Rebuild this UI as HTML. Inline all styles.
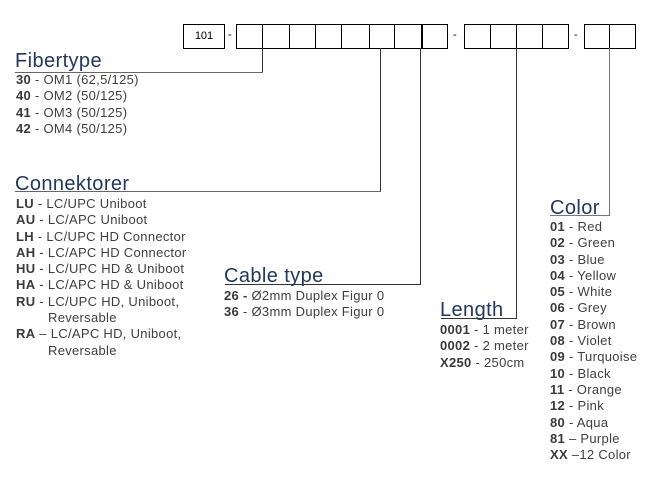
<!DOCTYPE html>
<html><head><meta charset="utf-8"><style>
body{margin:0;width:666px;height:496px;background:#fff;position:relative;overflow:hidden;font-family:"Liberation Sans",sans-serif}
.b{position:absolute;border:1px solid #000;box-sizing:border-box;height:25px;top:24px}
.h{position:absolute;font-size:20px;letter-spacing:0.4px;line-height:22px;color:#1f3864;white-space:nowrap}
.t{position:absolute;font-size:13px;letter-spacing:0.3px;line-height:16.3px;color:#404040;white-space:nowrap}
.t b{color:#3a3a3a}
.l{position:absolute;background:#333}
.d{position:absolute;font-size:11px;top:29px;color:#000}
</style></head><body>
<div class="b" style="left:183px;width:42px;font-size:11px;text-align:center;line-height:23px">101</div>
<div class="d" style="left:228px">-</div>
<div class="d" style="left:453px">-</div>
<div class="d" style="left:574px">-</div>
<div class="b" style="left:236px;width:27px"></div>
<div class="b" style="left:262px;width:28px"></div>
<div class="b" style="left:289px;width:27px"></div>
<div class="b" style="left:315px;width:27px"></div>
<div class="b" style="left:341px;width:29px"></div>
<div class="b" style="left:369px;width:26px"></div>
<div class="b" style="left:394px;width:28px"></div>
<div class="b" style="left:421px;width:27px;border-left-width:2px"></div>
<div class="b" style="left:464px;width:27px"></div>
<div class="b" style="left:490px;width:27px"></div>
<div class="b" style="left:516px;width:27px"></div>
<div class="b" style="left:542px;width:27px"></div>
<div class="b" style="left:584px;width:26px"></div>
<div class="b" style="left:609px;width:27px"></div>

<div class="l" style="left:262px;top:48px;width:1px;height:25px"></div>
<div class="l" style="left:15px;top:72px;width:248px;height:1px;background:#666"></div>
<div class="l" style="left:380px;top:48px;width:1px;height:144px"></div>
<div class="l" style="left:15px;top:191px;width:366px;height:1px;background:#666"></div>
<div class="l" style="left:420px;top:48px;width:1px;height:237px"></div>
<div class="l" style="left:225px;top:284px;width:196px;height:1px"></div>
<div class="l" style="left:516px;top:48px;width:1px;height:271px"></div>
<div class="l" style="left:441px;top:318px;width:76px;height:1px"></div>
<div class="l" style="left:609px;top:48px;width:1px;height:168px;background:#777"></div>
<div class="l" style="left:550px;top:215px;width:60px;height:1px;background:#777"></div>

<div class="h" style="left:15px;top:50px">Fibertype</div>
<div class="t" style="left:16px;top:72px"><b>30</b> - OM1 (62,5/125)<br><b>40</b> - OM2 (50/125)<br><b>41</b> - OM3 (50/125)<br><b>42</b> - OM4 (50/125)</div>

<div class="h" style="left:15px;top:173px">Connektorer</div>
<div class="t" style="left:16px;top:196px"><b>LU</b> - LC/UPC Uniboot<br><b>AU</b> - LC/APC Uniboot<br><b>LH</b> - LC/UPC HD Connector<br><b>AH</b> - LC/APC HD Connector<br><b>HU</b> - LC/UPC HD &amp; Uniboot<br><b>HA</b> - LC/APC HD &amp; Uniboot<br><b>RU</b> - LC/UPC HD, Uniboot,<br><span style="padding-left:32px">Reversable</span><br><b>RA</b> – LC/APC HD, Uniboot,<br><span style="padding-left:32px">Reversable</span></div>

<div class="h" style="left:224px;top:265px">Cable type</div>
<div class="t" style="left:224px;top:288px"><b>26 -</b> Ø2mm Duplex Figur 0<br><b>36</b> - Ø3mm Duplex Figur 0</div>

<div class="h" style="left:440px;top:299px">Length</div>
<div class="t" style="left:440px;top:322px"><b>0001</b> - 1 meter<br><b>0002</b> - 2 meter<br><b>X250</b> - 250cm</div>

<div class="h" style="left:550px;top:197px">Color</div>
<div class="t" style="left:550px;top:219px"><b>01</b> - Red<br><b>02</b> - Green<br><b>03</b> - Blue<br><b>04</b> - Yellow<br><b>05</b> - White<br><b>06</b> - Grey<br><b>07</b> - Brown<br><b>08</b> - Violet<br><b>09</b> - Turquoise<br><b>10</b> - Black<br><b>11</b> - Orange<br><b>12</b> - Pink<br><b>80</b> - Aqua<br><b>81</b> – Purple<br><b>XX</b> –12 Color</div>
</body></html>
